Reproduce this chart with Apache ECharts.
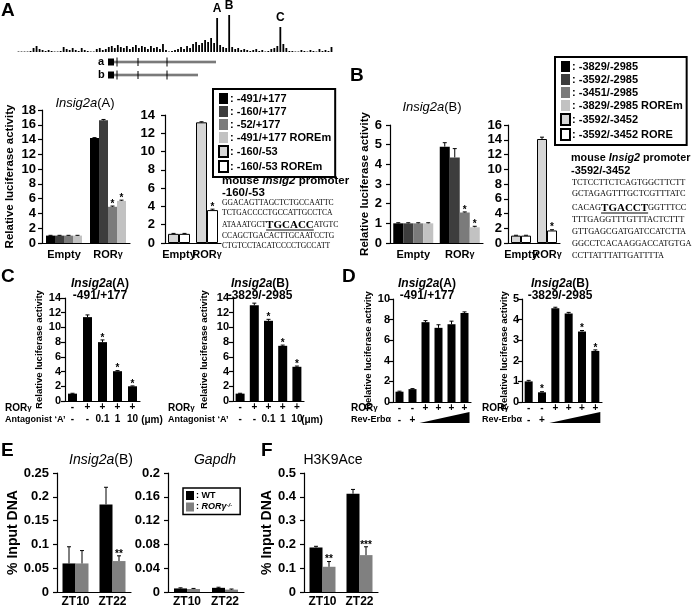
<!DOCTYPE html>
<html><head><meta charset="utf-8">
<script src="https://cdn.jsdelivr.net/npm/echarts@6/dist/echarts.min.js"></script>
<style>html,body{margin:0;padding:0;background:#fff}#c{width:696px;height:608px}</style>
</head><body><div id="c"></div>
<script>
// ================= DATA =================
const trackValues = [0.5,0.5,0.5,0.5,1,4,6,3,2,1,2,1,0.5,0.5,1,5,3,2,4,2,1,4,2,1,0.5,0.5,3,4,2,3,5,6,4,7,5,4,6,3,5,7,4,6,5,3,6,4,5,3,8,2,0.5,1,2,3,5,3,6,4,8,10,7,9,12,10,14,9,34,7,5,4,37,5,3,4,2,3,2,1,2,3,1,2,0.5,1,3,4,6,25,8,4,1,1,0.5,0.5,2,1,0.5,2,1,0.5,3,1,2,1,5];
const peakLabels = ['A', 'B', 'C'];

const catsAB = ['Empty', 'RORγ'];
const a1Names = ['-491/+177', '-160/+177', '-52/+177', '-491/+177 ROREm'];
const a1Values = [[1.0, 14.2], [1.0, 16.6], [1.0, 4.9], [1.0, 5.7]];
const a1Errors = [[0.04, 0.06], [0.04, 0.12], [0.04, 0.1], [0.04, 0.1]];
const a1Stars = [['', ''], ['', ''], ['', '*'], ['', '*']];
const a2Names = ['-160/-53', '-160/-53 ROREm'];
const a2Values = [[1.0, 13.2], [1.0, 3.6]];
const a2Errors = [[0.05, 0.06], [0.05, 0.1]];
const a2Stars = [['', ''], ['', '*']];

const b1Names = ['-3829/-2985', '-3592/-2985', '-3451/-2985', '-3829/-2985 ROREm'];
const b1Values = [[1.0, 4.9], [1.0, 4.35], [1.0, 1.55], [1.0, 0.8]];
const b1Errors = [[0.03, 0.2], [0.03, 0.45], [0.03, 0.03], [0.03, 0.05]];
const b1Stars = [['', ''], ['', ''], ['', '*'], ['', '*']];
const b2Names = ['-3592/-3452', '-3592/-3452 RORE'];
const b2Values = [[1.0, 14.1], [1.0, 1.7]];
const b2Errors = [[0.05, 0.25], [0.05, 0.1]];
const b2Stars = [['', ''], ['', '*']];

const cRor = ['-', '+', '+', '+', '+'];
const cAntagonist = ['-', '-', '0.1', '1', '10'];
const c1Values = [1.0, 11.4, 8.0, 4.05, 2.0];
const c1Errors = [0.05, 0.3, 0.3, 0.08, 0.05];
const c1Stars = ['', '', '*', '*', '*'];
const c2Values = [1.0, 13.0, 10.9, 7.5, 4.65];
const c2Errors = [0.05, 0.3, 0.2, 0.1, 0.1];
const c2Stars = ['', '', '*', '*', '*'];

const dRor = ['-', '-', '+', '+', '+', '+'];
const dRev = ['-', '+', '', '', '', ''];
const d1Values = [1.0, 1.25, 7.75, 7.2, 7.55, 8.65];
const d1Errors = [0.05, 0.05, 0.15, 0.3, 0.3, 0.1];
const d1Stars = ['', '', '', '', '', ''];
const d2Values = [1.0, 0.47, 4.55, 4.3, 3.42, 2.48];
const d2Errors = [0.05, 0.03, 0.05, 0.05, 0.05, 0.05];
const d2Stars = ['', '*', '', '', '*', '*'];

const catsE = ['ZT10', 'ZT22'];
const eNames = ['WT', 'RORγ-/-'];
const e1Values = [[0.06, 0.184], [0.06, 0.065]];
const e1Errors = [[0.035, 0.036], [0.027, 0.011]];
const e1Stars = [['', ''], ['', '**']];
const e2Values = [[0.006, 0.007], [0.005, 0.004]];
const e2Errors = [[0.001, 0.001], [0.001, 0.001]];
const e2Stars = [['', ''], ['', '']];
const fValues = [[0.187, 0.413], [0.106, 0.155]];
const fErrors = [[0.005, 0.018], [0.022, 0.035]];
const fStars = [['', ''], ['**', '***']];

const seqA = [
  [['GGACAGTTAGCTCTGCCAATTC', 0]],
  [['TCTGACCCCTGCCATTGCCTCA', 0]],
  [['ATAAATGCT', 0], ['TGCACC', 1], ['ATGTC', 0]],
  [['CCAGCTGACACTTGCAATCCTG', 0]],
  [['CTGTCCTACATCCCCTGCCATT', 0]]
];
const seqB = [
  [['TCTCCTTCTCAGTGGCTTCTT', 0]],
  [['GCTAGAGTTTGCTCGTTTATC', 0]],
  [['CACAG', 0], ['TGACCT', 1], ['GGTTTCC', 0]],
  [['TTTGAGGTTTGTTTACTCTTT', 0]],
  [['GTTGAGCGATGATCCATCTTA', 0]],
  [['GGCCTCACAAGGACCATGTGA', 0]],
  [['CCTTATTTATTGATTTTA', 0]]
];

// ================= BUILD =================
const FF = 'Liberation Sans';
const F = '"Liberation Sans", Arial, sans-serif';
const SF = '"Liberation Serif", "Times New Roman", serif';
const grids = [], xAxes = [], yAxes = [], series = [], graphics = [];

function addGrid(l, t, w, h, x, y) {
  grids.push({ left: l, top: t, width: w, height: h });
  const i = grids.length - 1;
  xAxes.push(Object.assign({ gridIndex: i }, x));
  yAxes.push(Object.assign({ gridIndex: i }, y));
  return i;
}
function yAx(max, interval, o) {
  return {
    type: 'value', min: 0, max: max, interval: interval,
    axisLine: { show: true, lineStyle: { color: '#000', width: 1.2 } },
    axisTick: { show: true, length: 4, lineStyle: { color: '#000', width: 1.2 } },
    splitLine: { show: false },
    axisLabel: { color: '#000', fontFamily: FF, fontWeight: 'bold', fontSize: o.fs, margin: o.m },
    name: o.name || '', nameLocation: 'middle', nameGap: o.gap || 0, nameRotate: 90,
    nameTextStyle: { color: '#000', fontFamily: FF, fontWeight: 'bold', fontSize: o.nfs || 11 }
  };
}
function xAx(cats, o) {
  return {
    type: 'category', data: cats,
    axisLine: { show: true, lineStyle: { color: '#000', width: 1.2 } },
    axisTick: { show: false },
    axisLabel: {
      color: '#000', fontFamily: FF, fontWeight: 'bold', fontSize: o.fs, margin: o.m,
      lineHeight: o.lh || undefined, interval: 0,
      formatter: o.fmt || (v => v),
      rich: o.rich || {}
    }
  };
}
function errSeries(gi, name, vals, errs, stars, off) {
  series.push({
    type: 'custom', name: name + ' err', xAxisIndex: gi, yAxisIndex: gi, z: 5, silent: true, clip: false,
    data: vals.map((v, k) => [k, v, errs[k]]),
    renderItem: function (params, api) {
      const k = api.value(0), v = api.value(1), e = api.value(2);
      const b = api.coord([k, v]), t = api.coord([k, v + e]);
      const x = b[0] + off;
      const ch = [
        { type: 'line', shape: { x1: x, y1: b[1], x2: x, y2: t[1] }, style: { stroke: '#000', lineWidth: 1 } },
        { type: 'line', shape: { x1: x - 2, y1: t[1], x2: x + 2, y2: t[1] }, style: { stroke: '#000', lineWidth: 1 } }
      ];
      const s = stars[params.dataIndex];
      if (s) ch.push({ type: 'text', style: { text: s, x: x, y: t[1] - 2, font: 'bold 10px ' + F, fill: '#000', align: 'center', textAlign: 'center', verticalAlign: 'middle', textVerticalAlign: 'middle' } });
      return { type: 'group', children: ch };
    }
  });
}
function addBars(gi, names, vals, errs, stars, colors, borders, bw) {
  const n = names.length;
  names.forEach((nm, j) => {
    series.push({
      type: 'bar', name: nm, xAxisIndex: gi, yAxisIndex: gi, data: vals[j], barWidth: bw, barGap: '0%',
      itemStyle: { color: colors[j], borderColor: borders[j] ? '#000' : colors[j], borderWidth: borders[j] ? 1 : 0 },
      silent: true
    });
    errSeries(gi, nm, vals[j], errs[j], stars[j], (j - (n - 1) / 2) * bw);
  });
}
function txt(x, y, text, o) {
  o = o || {};
  const st = { text: text, fill: '#000', font: o.font || ('bold 12px ' + F),
    align: o.align || 'left', textAlign: o.align || 'left', verticalAlign: 'middle', textVerticalAlign: 'middle' };
  if (o.rich) st.rich = o.rich;
  graphics.push({ type: 'text', x: x, y: y, rotation: o.rot || 0, style: st, silent: true, z: 10 });
}
function rs(size, italic, bold) {
  return { fontFamily: FF, fontSize: size, fontStyle: italic ? 'italic' : 'normal', fontWeight: bold ? 'bold' : 'normal', color: '#000' };
}
const rorRich = { n: rs(11, false, true), g: rs(9, false, true) };
const rorFmt = v => v === 'RORγ' ? '{n|ROR}{g|γ}' : '{n|' + v + '}';

// ---- track ----
const gT = addGrid(17, 14, 316, 38,
  { type: 'category', show: false, data: trackValues.map((v, i) => i) },
  { type: 'value', show: false, min: 0, max: 38 });
series.push({ type: 'bar', name: 'track', xAxisIndex: gT, yAxisIndex: gT, data: trackValues, barWidth: 1.8, itemStyle: { color: '#000' }, silent: true });
const peakIdx = [66, 70, 87];
series.push({
  type: 'custom', name: 'peaks', xAxisIndex: gT, yAxisIndex: gT, clip: false, silent: true,
  data: peakIdx.map((p, i) => [p, trackValues[p], i]),
  renderItem: function (params, api) {
    const c = api.coord([api.value(0), api.value(1)]);
    return { type: 'text', style: { text: peakLabels[params.dataIndex], x: c[0], y: c[1] - 9, font: 'bold 12px ' + F, fill: '#000', align: 'center', textAlign: 'center', verticalAlign: 'middle', textVerticalAlign: 'middle' } };
  }
});

// ---- A ----
const colsA = ['#000000', '#3d3d3d', '#7b7b7b', '#c2c2c2'];
const gA1 = addGrid(42, 110, 88, 133,
  xAx(catsAB, { fs: 11, m: 6, fmt: rorFmt, rich: rorRich }),
  yAx(18, 2, { fs: 13, m: 6, name: 'Relative luciferase activity', gap: 26, nfs: 11.5 }));
addBars(gA1, a1Names, a1Values, a1Errors, a1Stars, colsA, [0, 0, 0, 0], 9);
const gA2 = addGrid(165, 115, 56, 128,
  xAx(catsAB, { fs: 11, m: 6, fmt: rorFmt, rich: rorRich }),
  yAx(14, 2, { fs: 13, m: 10 }));
addBars(gA2, a2Names, a2Values, a2Errors, a2Stars, ['#d6d6d6', '#ffffff'], [1, 1], 11);

// ---- B ----
const gB1 = addGrid(390, 125, 93, 118,
  xAx(catsAB, { fs: 11, m: 6, fmt: rorFmt, rich: rorRich }),
  yAx(6, 1, { fs: 13, m: 8, name: 'Relative luciferase activity', gap: 15, nfs: 11.5 }));
addBars(gB1, b1Names, b1Values, b1Errors, b1Stars, colsA, [0, 0, 0, 0], 10);
const gB2 = addGrid(508, 125, 52, 118,
  xAx(catsAB, { fs: 11, m: 6, fmt: rorFmt, rich: rorRich }),
  yAx(16, 2, { fs: 13, m: 6 }));
addBars(gB2, b2Names, b2Values, b2Errors, b2Stars, ['#d6d6d6', '#ffffff'], [1, 1], 10);

// ---- C ----
const catsC = cRor.map((r, i) => r + '\n' + cAntagonist[i]);
const gC1 = addGrid(65, 298, 75, 103,
  xAx(catsC, { fs: 10, m: 0, lh: 12 }),
  yAx(14, 2, { fs: 11, m: 4, name: 'Relative luciferase activity', gap: 19, nfs: 9.5 }));
addBars(gC1, ['C1'], [c1Values], [c1Errors], [c1Stars], ['#000'], [0], 9);
const gC2 = addGrid(233, 298, 71, 103,
  xAx(catsC, { fs: 10, m: 0, lh: 12 }),
  yAx(14, 2, { fs: 11, m: 4, name: 'Relative luciferase activity', gap: 24, nfs: 9.5 }));
addBars(gC2, ['C2'], [c2Values], [c2Errors], [c2Stars], ['#000'], [0], 9);

// ---- D ----
const catsD = dRor.map((r, i) => r + '\n' + (dRev[i] || ' '));
const gD1 = addGrid(393, 299, 78, 103,
  xAx(catsD, { fs: 10, m: 0, lh: 12 }),
  yAx(10, 2, { fs: 11, m: 3, name: 'Relative luciferase activity', gap: 20, nfs: 9.5 }));
addBars(gD1, ['D1'], [d1Values], [d1Errors], [d1Stars], ['#000'], [0], 8);
const gD2 = addGrid(522, 299, 80, 103,
  xAx(catsD, { fs: 10, m: 0, lh: 12 }),
  yAx(5, 1, { fs: 11, m: 3, name: 'Relative luciferase activity', gap: 12, nfs: 9.5 }));
addBars(gD2, ['D2'], [d2Values], [d2Errors], [d2Stars], ['#000'], [0], 8);
[gD1, gD2].forEach(gi => {
  series.push({
    type: 'custom', name: 'wedge' + gi, xAxisIndex: gi, yAxisIndex: gi, clip: false, silent: true,
    data: [[2, 0]],
    renderItem: function (params, api) {
      const a = api.coord([2, 0]), b = api.coord([5, 0]);
      const x1 = a[0] - 6, x2 = b[0] + 5, y = a[1];
      return { type: 'polygon', shape: { points: [[x1, y + 21], [x2, y + 10], [x2, y + 21]] }, style: { fill: '#000' } };
    }
  });
});

// ---- E / F ----
const eCols = ['#000000', '#808080'];
const gE1 = addGrid(57, 473, 74, 121,
  xAx(catsE, { fs: 12, m: 4 }),
  yAx(0.25, 0.05, { fs: 13, m: 8, name: '% Input DNA', gap: 36, nfs: 14 }));
addBars(gE1, eNames, e1Values, e1Errors, e1Stars, eCols, [0, 0], 13);
const gE2 = addGrid(168, 473, 76, 121,
  xAx(catsE, { fs: 12, m: 4 }),
  yAx(0.2, 0.04, { fs: 13, m: 8 }));
addBars(gE2, eNames, e2Values, e2Errors, e2Stars, eCols, [0, 0], 13);
const gF = addGrid(304, 473, 74, 121,
  xAx(catsE, { fs: 12, m: 4 }),
  yAx(0.5, 0.1, { fs: 13, m: 8, name: '% Input DNA', gap: 26, nfs: 14 }));
addBars(gF, eNames, fValues, fErrors, fStars, eCols, [0, 0], 13);

// ---- texts ----
const PL = 'bold 19px ' + F;
txt(1, 11, 'A', { font: PL });
txt(350, 76, 'B', { font: PL });
txt(1, 277, 'C', { font: PL });
txt(342, 277, 'D', { font: PL });
txt(1, 451, 'E', { font: PL });
txt(261, 451, 'F', { font: PL });

const titleRich = { i: rs(13, true, false), n: rs(13, false, false) };
txt(85, 103, '{i|Insig2a}{n|(A)}', { align: 'center', rich: titleRich });
txt(432, 107, '{i|Insig2a}{n|(B)}', { align: 'center', rich: titleRich });
const tRich2 = { i: rs(12, true, true), n: rs(12, false, true) };
txt(100, 284, '{i|Insig2a}{n|(A)}', { align: 'center', rich: tRich2 });
txt(100, 296, '-491/+177', { align: 'center', font: 'bold 12px ' + F });
txt(260, 284, '{i|Insig2a}{n|(B)}', { align: 'center', rich: tRich2 });
txt(260, 296, '-3829/-2985', { align: 'center', font: 'bold 12px ' + F });
txt(427, 284, '{i|Insig2a}{n|(A)}', { align: 'center', rich: tRich2 });
txt(427, 296, '-491/+177', { align: 'center', font: 'bold 12px ' + F });
txt(560, 284, '{i|Insig2a}{n|(B)}', { align: 'center', rich: tRich2 });
txt(560, 296, '-3829/-2985', { align: 'center', font: 'bold 12px ' + F });
const tRichE = { i: rs(14, true, false), n: rs(14, false, false) };
txt(101, 460, '{i|Insig2a}{n|(B)}', { align: 'center', rich: tRichE });
txt(215, 460, '{i|Gapdh}', { align: 'center', rich: tRichE });
txt(333, 460, '{n|H3K9Ace}', { align: 'center', rich: tRichE });

// row labels C / D
const rowRich = { n: rs(10, false, true), g: rs(8, false, true) };
[[5, 'Antagonist ‘A’'], [168, 'Antagonist ‘A’'], [351, 'Rev-Erbα'], [482, 'Rev-Erbα']].forEach(p => {
  txt(p[0], 408, '{n|ROR}{g|γ}', { rich: rowRich });
  txt(p[0], 420, p[1], { font: 'bold 9px ' + F });
});
txt(152, 420, '(μm)', { align: 'center', font: 'bold 10px ' + F });
txt(312, 420, '(μm)', { align: 'center', font: 'bold 10px ' + F });

// promoter headings
const promRich = { n: rs(11.5, false, true), i: rs(11.5, true, true) };
const promRichB = { n: rs(10.8, false, true), i: rs(10.8, true, true) };
txt(222, 181, '{n|mouse }{i|Insig2}{n| promoter}', { rich: promRich });
txt(222, 193, '-160/-53', { font: 'bold 11.5px ' + F });
txt(571, 158, '{n|mouse }{i|Insig2}{n| promoter}', { rich: promRichB });
txt(571, 171, '-3592/-3452', { font: 'bold 11px ' + F });

// sequences
const mctx = document.createElement('canvas').getContext('2d');
function seqLines(x0, ys, lines, fs) {
  lines.forEach((parts, li) => {
    let x = x0;
    parts.forEach(p => {
      const font = p[1] ? ('bold 11px ' + SF) : (fs + 'px ' + SF);
      txt(x, ys[li], p[0], { font: font });
      mctx.font = font;
      const w = mctx.measureText(p[0]).width;
      if (p[1]) graphics.push({ type: 'line', shape: { x1: x, y1: ys[li] + 5, x2: x + w, y2: ys[li] + 5 }, style: { stroke: '#000', lineWidth: 1.2 }, silent: true });
      x += w;
    });
  });
}
seqLines(222, [203, 213, 225, 236, 246], seqA, 7.6);
seqLines(572, [183, 194, 208, 220, 232, 244, 256], seqB, 8.3);

// gene models
[[62, 216, 'a'], [75, 198, 'b']].forEach(g => {
  const y = g[0];
  txt(98, y, g[2], { font: 'bold 11px ' + F });
  graphics.push({ type: 'line', shape: { x1: 113, y1: y, x2: g[1], y2: y }, style: { stroke: '#aaa', lineWidth: 3 }, silent: true });
  graphics.push({ type: 'line', shape: { x1: 113, y1: y, x2: g[1], y2: y }, style: { stroke: '#333', lineWidth: 0.8 }, silent: true });
  graphics.push({ type: 'rect', shape: { x: 108, y: y - 3.5, width: 6, height: 7 }, style: { fill: '#000' }, silent: true });
  [[117, 4.5], [138, 4], [167, 4.5]].forEach(t => {
    graphics.push({ type: 'line', shape: { x1: t[0], y1: y - t[1], x2: t[0], y2: y + t[1] }, style: { stroke: '#000', lineWidth: 1 }, silent: true });
  });
});

// ================= OPTION =================
const legBase = {
  orient: 'vertical', borderColor: '#000', borderWidth: 2, padding: [4, 4, 4, 5], itemGap: 2,
  itemWidth: 9, itemHeight: 11, icon: 'rect', selectedMode: false, backgroundColor: '#fff',
  formatter: n => ': ' + n,
  textStyle: { fontFamily: FF, fontWeight: 'bold', fontSize: 11, color: '#000', padding: [0, 0, 0, -3] }
};
const option = {
  animation: false,
  backgroundColor: '#fff',
  grid: grids, xAxis: xAxes, yAxis: yAxes, series: series,
  legend: [
    Object.assign({}, legBase, { data: a1Names.concat(a2Names), left: 213, top: 89 }),
    Object.assign({}, legBase, { data: b1Names.concat(b2Names), left: 555, top: 57 }),
    Object.assign({}, legBase, {
      data: eNames, left: 183, top: 488, itemWidth: 8, itemHeight: 9, borderWidth: 1.5, padding: [3, 8, 3, 3],
      formatter: n => n === 'WT' ? '{n|: WT}' : '{n|: }{i|RORγ}{s|-/-}',
      textStyle: { fontFamily: FF, fontSize: 9, color: '#000', padding: [0, 0, 0, -3],
        rich: { n: rs(9, false, true), i: rs(9, true, true), s: Object.assign(rs(6, true, true), { verticalAlign: 'top', padding: [0, 0, 4, 0] }) } }
    })
  ],
  graphic: graphics
};
const chart = echarts.init(document.getElementById('c'), null, { renderer: 'canvas' });
chart.setOption(option);
</script></body></html>
